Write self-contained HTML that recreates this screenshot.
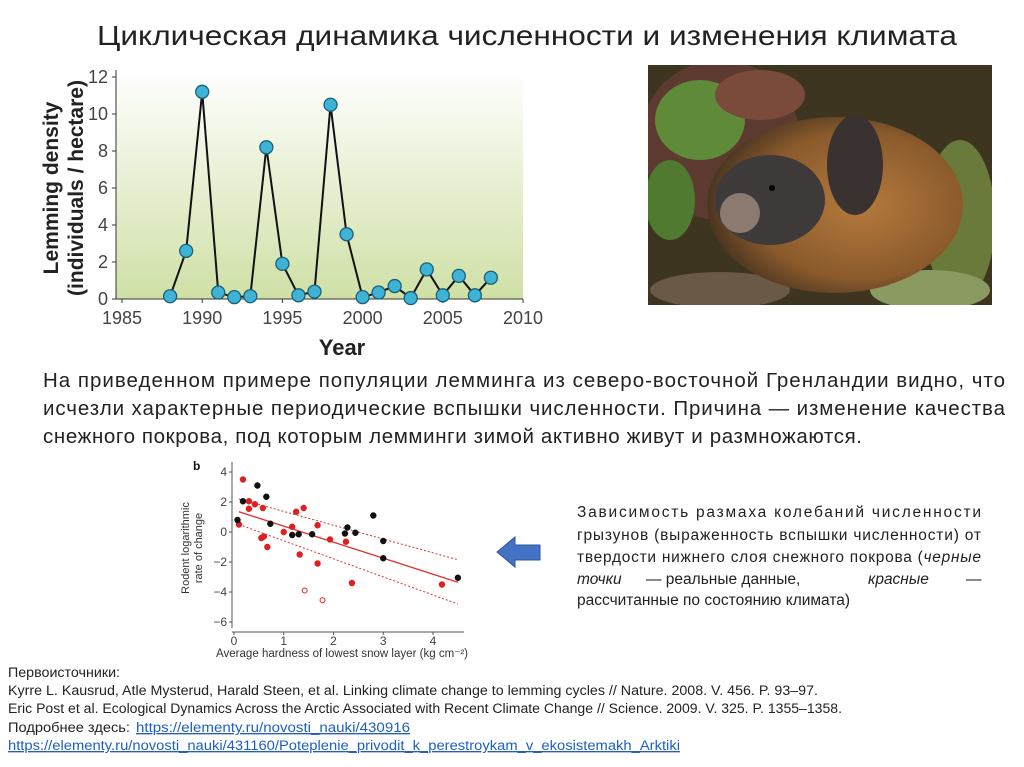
<!DOCTYPE html>
<html><head><meta charset="utf-8"><style>
html,body{margin:0;padding:0;background:#fff;}
svg{display:block;font-family:"Liberation Sans","Noto Sans CJK SC",sans-serif;}
</style></head><body>
<svg width="1024" height="767" viewBox="0 0 1024 767">
<defs>
<linearGradient id="bg" x1="0" y1="0" x2="0" y2="1"><stop offset="0" stop-color="#ffffff"/><stop offset="1" stop-color="#cfe0a6"/></linearGradient>
<radialGradient id="fur" cx="0.6" cy="0.5" r="0.6"><stop offset="0" stop-color="#b57a3c"/><stop offset="0.7" stop-color="#8a5a2c"/><stop offset="1" stop-color="#4a3520"/></radialGradient>
<clipPath id="photoclip"><rect x="648" y="65" width="344" height="240"/></clipPath>
</defs>
<text x="97" y="45" font-size="28" fill="#222" textLength="860" lengthAdjust="spacingAndGlyphs">Циклическая динамика численности и изменения климата</text>

<g id="density-chart">
<rect x="116" y="70" width="407" height="229" fill="url(#bg)"/>
<text transform="translate(58,188) rotate(-90)" text-anchor="middle" font-size="21" font-weight="bold" fill="#222">Lemming density</text>
<text transform="translate(83,188) rotate(-90)" text-anchor="middle" font-size="21" font-weight="bold" fill="#222">(individuals / hectare)</text>
<text x="342" y="355" text-anchor="middle" font-size="22" font-weight="bold" fill="#222">Year</text>
</g>

<g clip-path="url(#photoclip)">
<rect x="648" y="65" width="344" height="240" fill="#3d3520"/>
<ellipse cx="720" cy="140" rx="80" ry="80" fill="#5c3a30"/>
<ellipse cx="700" cy="120" rx="45" ry="40" fill="#5f8a3a"/>
<ellipse cx="760" cy="95" rx="45" ry="25" fill="#7a4a3a"/>
<ellipse cx="670" cy="200" rx="25" ry="40" fill="#4f7a30"/>
<ellipse cx="960" cy="220" rx="35" ry="80" fill="#6a7a3a"/>
<ellipse cx="930" cy="290" rx="60" ry="20" fill="#8a9a60"/>
<ellipse cx="720" cy="290" rx="70" ry="18" fill="#6a5a45"/>
<ellipse cx="835" cy="205" rx="128" ry="88" fill="url(#fur)"/>
<ellipse cx="770" cy="200" rx="55" ry="45" fill="#3e3a3a"/>
<ellipse cx="855" cy="165" rx="28" ry="50" fill="#3a3230"/>
<ellipse cx="740" cy="213" rx="20" ry="20" fill="#8a7a70"/>
<circle cx="772" cy="188" r="3" fill="#000"/>
</g>

<text x="43" y="387" font-size="20.5" fill="#222" textLength="962" lengthAdjust="spacing">На приведенном примере популяции лемминга из северо-восточной Гренландии видно, что</text>
<text x="43" y="415" font-size="20.5" fill="#222" textLength="962" lengthAdjust="spacing">исчезли характерные периодические вспышки численности. Причина — изменение качества</text>
<text x="43" y="443" font-size="20.5" fill="#222" textLength="819" lengthAdjust="spacing">снежного покрова, под которым лемминги зимой активно живут и размножаются.</text>

<g id="scatter">
<text x="193" y="470" font-size="12" font-weight="bold" fill="#111">b</text>
<text transform="translate(189,548) rotate(-90)" text-anchor="middle" font-size="11" fill="#333">Rodent logarithmic</text>
<text transform="translate(202,548) rotate(-90)" text-anchor="middle" font-size="11" fill="#333">rate of change</text>
<text x="216" y="657" font-size="11.5" fill="#333" textLength="252" lengthAdjust="spacingAndGlyphs">Average hardness of lowest snow layer (kg cm⁻²)</text>
</g>

<polygon points="497,552 515,537 515,545 540,545 540,560 515,560 515,567" fill="#4472c4" stroke="#2f5597" stroke-width="1"/>

<g font-size="15.5" fill="#222">
<text x="577" y="517" textLength="404" lengthAdjust="spacing">Зависимость размаха колебаний численности</text>
<text x="577" y="540" textLength="404" lengthAdjust="spacing">грызунов (выраженность вспышки численности) от</text>
<text x="577" y="562" textLength="404" lengthAdjust="spacing">твердости нижнего слоя снежного покрова (<tspan font-style="italic">черные</tspan></text>
<text x="577" y="584" font-style="italic">точки</text><text x="646" y="584">— реальные данные,</text><text x="868" y="584" font-style="italic">красные</text><text x="966" y="584">—</text>
<text x="577" y="605">рассчитанные по состоянию климата)</text>
</g>

<g font-size="13.5" fill="#222">
<text x="8" y="677" textLength="112" lengthAdjust="spacingAndGlyphs">Первоисточники:</text>
<text x="8" y="695" textLength="810" lengthAdjust="spacingAndGlyphs">Kyrre L. Kausrud, Atle Mysterud, Harald Steen, et al. Linking climate change to lemming cycles // Nature. 2008. V. 456. P. 93–97.</text>
<text x="8" y="713" textLength="834" lengthAdjust="spacingAndGlyphs">Eric Post et al. Ecological Dynamics Across the Arctic Associated with Recent Climate Change // Science. 2009. V. 325. P. 1355–1358.</text>
<text x="8" y="732" textLength="122" lengthAdjust="spacingAndGlyphs">Подробнее здесь:</text>
<text x="136" y="732" fill="#1f5fc0" text-decoration="underline" textLength="274" lengthAdjust="spacingAndGlyphs">https://elementy.ru/novosti_nauki/430916</text>
<text x="8" y="750" fill="#1f5fc0" text-decoration="underline" textLength="672" lengthAdjust="spacingAndGlyphs">https://elementy.ru/novosti_nauki/431160/Poteplenie_privodit_k_perestroykam_v_ekosistemakh_Arktiki</text>
</g>
</svg>
<script>
const years=[1988,1989,1990,1991,1992,1993,1994,1995,1996,1997,1998,1999,2000,2001,2002,2003,2004,2005,2006,2007,2008];
const density=[0.15,2.6,11.2,0.35,0.1,0.15,8.2,1.9,0.2,0.4,10.5,3.5,0.1,0.35,0.7,0.05,1.6,0.2,1.25,0.2,1.15];
const xTicks=[1985,1990,1995,2000,2005,2010];
const yTicks=[0,2,4,6,8,10,12];

const blackX=[0.07,0.18,0.47,0.65,0.73,1.17,1.3,1.57,2.23,2.28,2.44,2.8,3.0,3.0,4.5];
const blackY=[0.8,2.05,3.1,2.35,0.55,-0.2,-0.15,-0.15,-0.1,0.3,-0.05,1.1,-0.6,-1.75,-3.05];
const redX=[0.1,0.18,0.3,0.3,0.42,0.58,0.55,0.6,0.67,1.0,1.17,1.25,1.4,1.32,1.68,1.68,1.93,2.25,2.37,4.18];
const redY=[0.5,3.5,2.05,1.55,1.85,1.6,-0.4,-0.3,-1.0,0.0,0.35,1.35,1.6,-1.5,0.45,-2.1,-0.5,-0.65,-3.4,-3.5];
const openX=[1.42,1.78];
const openY=[-3.9,-4.55];
const fitX=[0.1,4.5];
const fitY=[1.35,-3.35];
const upperY=[2.2,-1.85];
const lowerY=[0.5,-4.8];
const sxTicks=[0,1,2,3,4];
const syTicks=[4,2,0,-2,-4,-6];

const NS='http://www.w3.org/2000/svg';
function mk(tag,attrs,parent){const e=document.createElementNS(NS,tag);for(const k in attrs)e.setAttribute(k,attrs[k]);parent.appendChild(e);return e;}

const g=document.getElementById('density-chart');
const X=v=>122+(v-1985)*(523-122)/25;
const Y=v=>299-v*(299-77)/12;
let a=mk('line',{x1:116,y1:70,x2:116,y2:299,stroke:'#333','stroke-width':1},g);


a=mk('line',{x1:116,y1:299,x2:523,y2:299,stroke:'#333','stroke-width':1},g);


yTicks.forEach(t=>{mk('line',{x1:112,x2:116,y1:Y(t),y2:Y(t),stroke:'#333'},g);
 const tx=mk('text',{x:108,y:Y(t)+6,'text-anchor':'end','font-size':18,fill:'#444'},g);tx.textContent=t;
 
 });
xTicks.forEach(t=>{mk('line',{x1:X(t),x2:X(t),y1:299,y2:303,stroke:'#333'},g);
 const tx=mk('text',{x:X(t),y:324,'text-anchor':'middle','font-size':18,fill:'#444'},g);tx.textContent=t;
 
 });
const pl=mk('polyline',{points:years.map((y,i)=>X(y)+','+Y(density[i])).join(' '),fill:'none',stroke:'#111','stroke-width':2},g);


years.forEach((y,i)=>{const c=mk('circle',{cx:X(y),cy:Y(density[i]),r:6.5,fill:'#3fb3d6',stroke:'#1b5f78','stroke-width':1.3},g);
 
 });

const s=document.getElementById('scatter');
const SX=v=>234+v*(433-234)/4;
const SY=v=>532-v*15;
a=mk('line',{x1:232,y1:462,x2:232,y2:628,stroke:'#555'},s);


a=mk('line',{x1:232,y1:632,x2:464,y2:632,stroke:'#555'},s);


syTicks.forEach(t=>{mk('line',{x1:229,x2:232,y1:SY(t),y2:SY(t),stroke:'#555'},s);
 const tx=mk('text',{x:227,y:SY(t)+4,'text-anchor':'end','font-size':12,fill:'#444'},s);tx.textContent=t<0?'−'+(-t):t;
 
 });
sxTicks.forEach(t=>{mk('line',{x1:SX(t),x2:SX(t),y1:632,y2:635,stroke:'#555'},s);
 const tx=mk('text',{x:SX(t),y:645,'text-anchor':'middle','font-size':12,fill:'#444'},s);tx.textContent=t;
 
 });
let l=mk('line',{x1:SX(fitX[0]),y1:SY(fitY[0]),x2:SX(fitX[1]),y2:SY(fitY[1]),stroke:'#e03030','stroke-width':1.3},s);


[upperY,lowerY].forEach(arr=>{const d=mk('line',{x1:SX(fitX[0]),y1:SY(arr[0]),x2:SX(fitX[1]),y2:SY(arr[1]),stroke:'#e03030','stroke-width':1,'stroke-dasharray':'2,2'},s);
 
 });
redX.forEach((x,i)=>{const c=mk('circle',{cx:SX(x),cy:SY(redY[i]),r:3.2,fill:'#e02020'},s);
 
 });
blackX.forEach((x,i)=>{const c=mk('circle',{cx:SX(x),cy:SY(blackY[i]),r:3.2,fill:'#111'},s);
 
 });
openX.forEach((x,i)=>{const c=mk('circle',{cx:SX(x),cy:SY(openY[i]),r:2.5,fill:'none',stroke:'#e02020','stroke-width':1},s);
 
 });
</script>
</body></html>
